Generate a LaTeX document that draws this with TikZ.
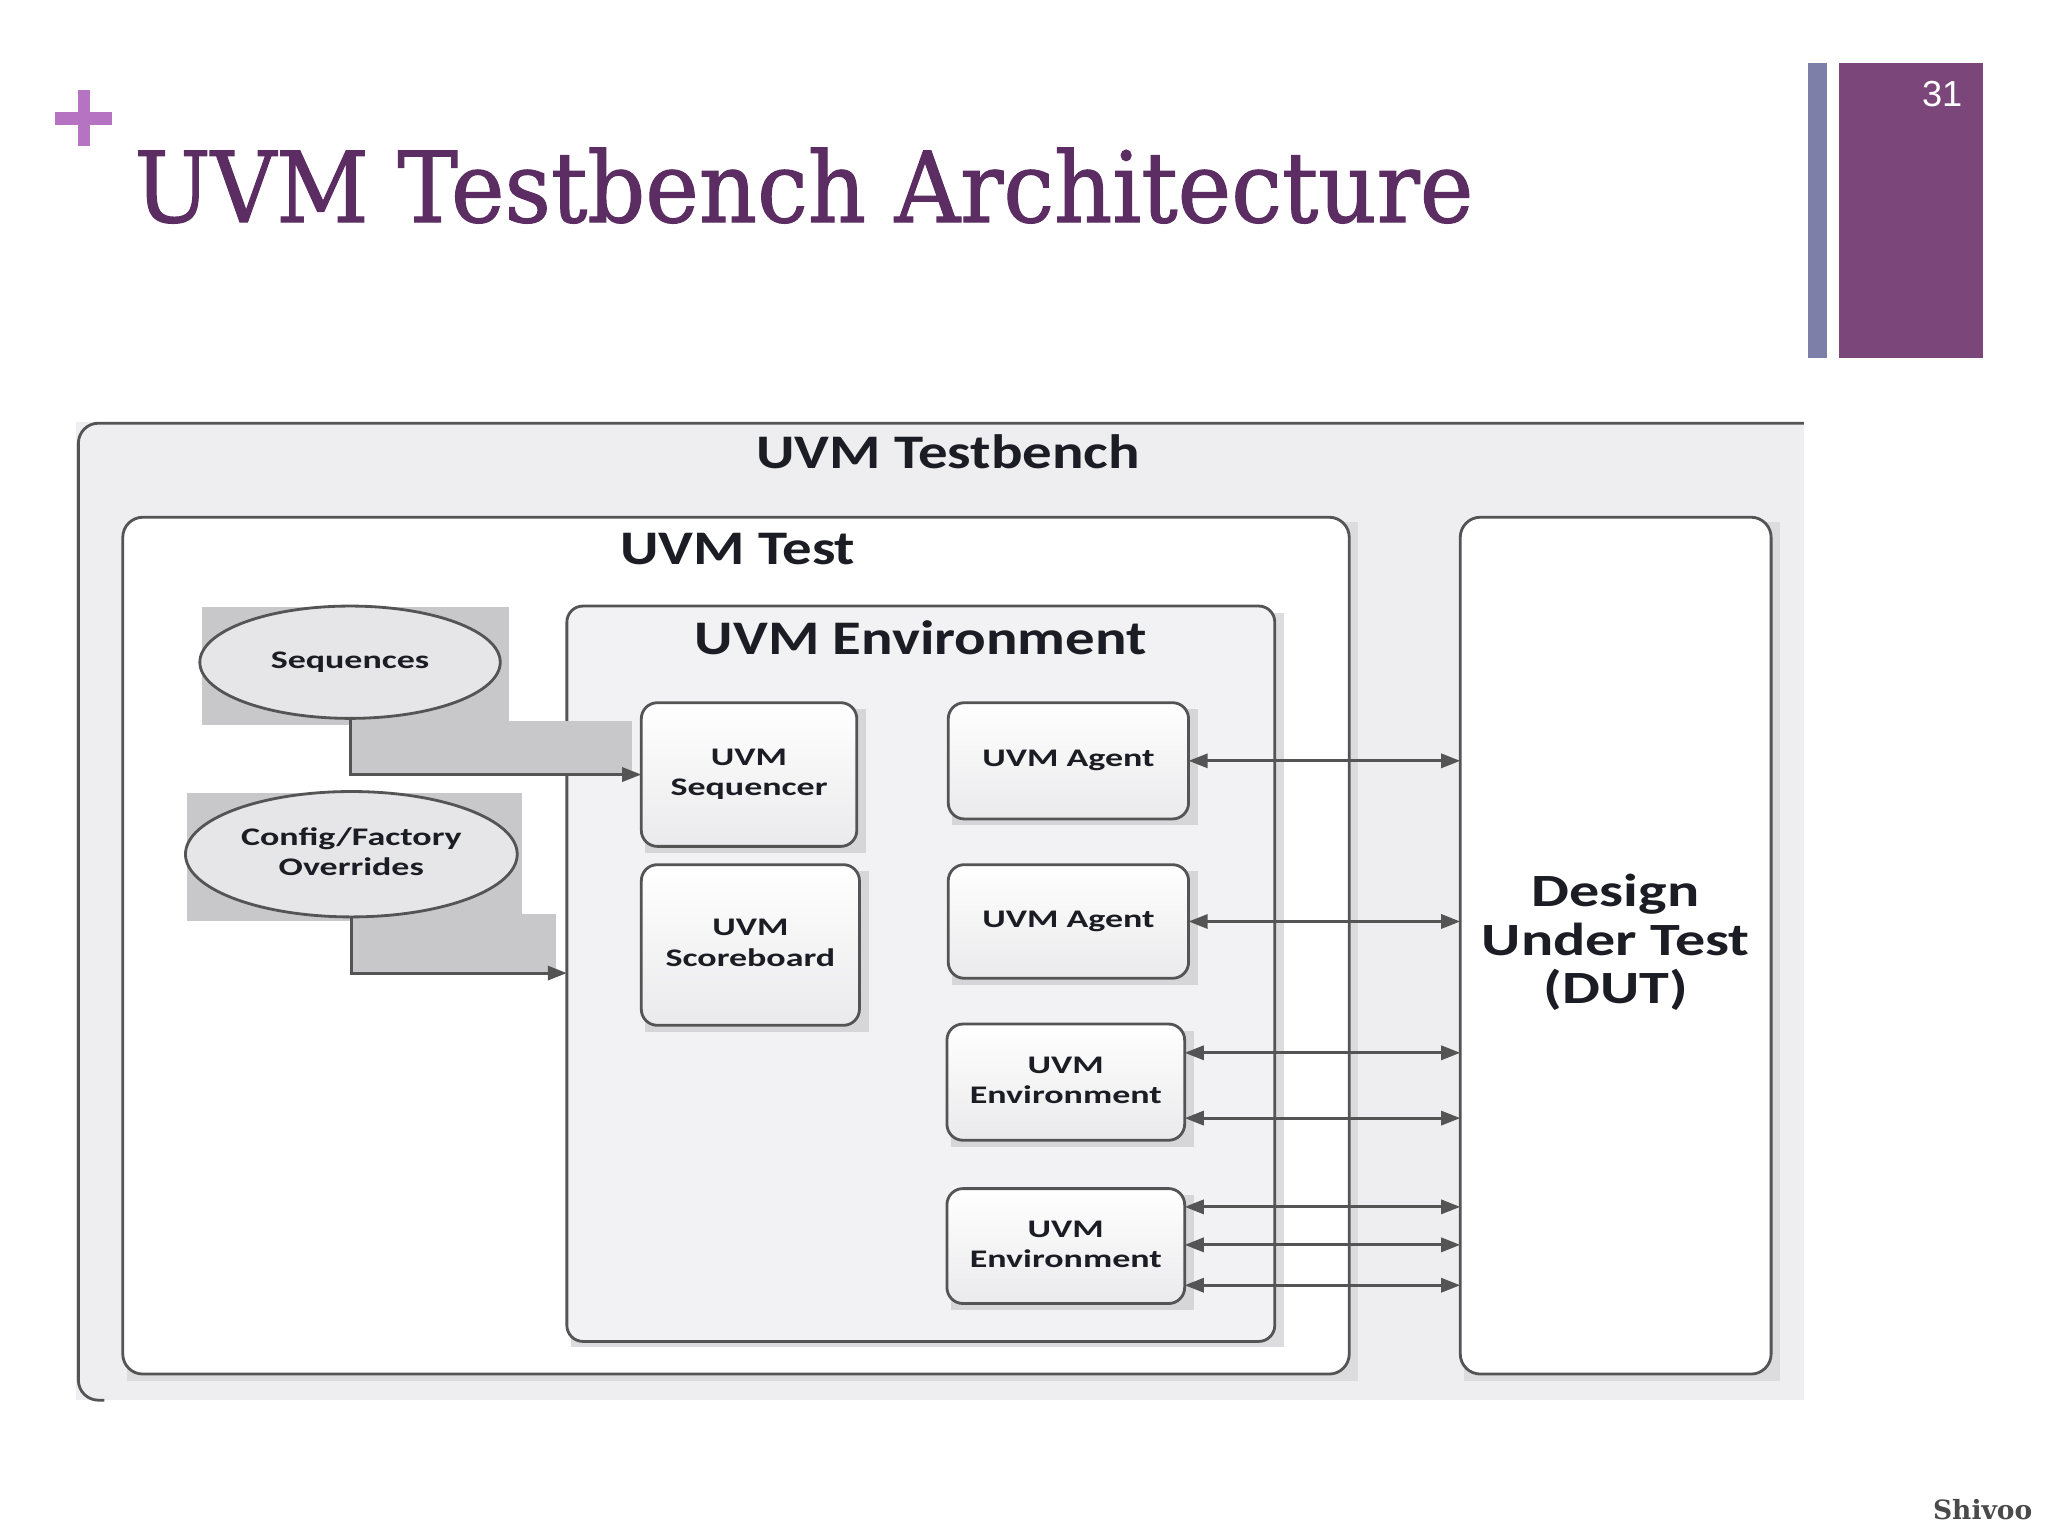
\documentclass[tikz,border=0pt]{standalone}
\usepackage{fontspec}
\setmainfont{Carlito}
\newfontfamily\titlefont[FakeBold=1.2]{DejaVu Serif}
\newfontfamily\markfont{DejaVu Serif}
\newfontfamily\numfont{Liberation Sans}
\usepackage{graphicx}
\usetikzlibrary{shapes.geometric,arrows.meta}
\definecolor{titlec}{HTML}{5C2D62}
\definecolor{plusc}{HTML}{B673C1}
\definecolor{barblue}{HTML}{7E7FA9}
\definecolor{barpurple}{HTML}{7B4679}
\definecolor{panelc}{HTML}{EEEDF0}
\definecolor{edgec}{HTML}{545454}
\definecolor{envc}{HTML}{F2F2F4}
\definecolor{boxbot}{HTML}{EAEAEC}
\definecolor{shadowc}{HTML}{D6D6D9}
\definecolor{bigshadow}{HTML}{DCDCDF}
\definecolor{bandc}{HTML}{C8C8CB}
\definecolor{ellc}{HTML}{E6E6E8}
\definecolor{txtc}{HTML}{1C1C24}
\definecolor{markc}{HTML}{4A4A4A}
\newcommand\smlab[1]{\scalebox{1.42}[1]{\begin{tabular}{@{}c@{}}#1\end{tabular}}}
\newcommand\biglab[1]{\scalebox{1.22}[1]{#1}}
\newcommand\dutlab[1]{\scalebox{1.3}[1]{\begin{tabular}{@{}c@{}}#1\end{tabular}}}
\begin{document}
\begin{tikzpicture}[x=0.65pt,y=-0.65pt,
  every node/.style={inner sep=0pt,outer sep=0pt},
  frame/.style={draw=edgec,line width=1.4pt,rounded corners=10pt},
  inbox/.style={draw=edgec,line width=1.4pt,rounded corners=8pt,top color=white,bottom color=boxbot,smtext},
  ellbox/.style={ellipse,draw=edgec,line width=1.4pt,fill=ellc,smtext},
  smtext/.style={font=\fontsize{12.6}{15}\selectfont\bfseries,text=txtc},
  bigtext/.style={font=\fontsize{24}{28}\selectfont\bfseries,text=txtc},
  duttext/.style={font=\fontsize{23}{24}\selectfont\bfseries,text=txtc},
  conn/.style={draw=edgec,line width=1.5pt,-{Triangle[length=9.5pt,width=7pt]}},
  biconn/.style={draw=edgec,line width=1.5pt,{Triangle[length=9.5pt,width=7pt]}-{Triangle[length=9.5pt,width=7pt]}},
]
\useasboundingbox (0,0) rectangle (1568,1176);
\fill[white] (0,0) rectangle (1568,1176);

% slide decorations
\fill[plusc] (60,69) rectangle (69,112);
\fill[plusc] (42,86) rectangle (86,96);
\node[anchor=base west,text=titlec] (title) at (103,170)
  {\resizebox{666.25pt}{37.05pt}{\titlefont UVM Testbench Architecture}};
\fill[barblue] (1384,48) rectangle (1399,274);
\fill[barpurple] (1408,48) rectangle (1518,274);
\node[text=white,font=\numfont\fontsize{18}{20}\selectfont] (pg) at (1487,72) {31};
\node[anchor=base east,text=markc] (wm) at (1556,1163)
  {\resizebox{49.4pt}{!}{\markfont\bfseries Shivoo}};

% outer testbench panel
\fill[panelc] (58,323) rectangle (1381,1072);
\draw[edgec,line width=1.4pt,rounded corners=10pt] (1381,324) -- (60,324) -- (60,1072) -- (80,1072);
\node[bigtext] (tbt) at (726,346) {\biglab{UVM Testbench}};

% big boxes
\fill[bigshadow] (97,400) rectangle (1040,1057);
\node[frame,fill=white,minimum width=610.35pt,minimum height=426.4pt] (test) at (563.5,724) {};
\node[bigtext] (testt) at (565,420) {\biglab{UVM Test}};
\fill[bigshadow] (1121,400) rectangle (1363,1057);
\node[frame,fill=white,minimum width=154.7pt,minimum height=426.4pt,duttext] (dut) at (1237,724)
  {\dutlab{Design\\Under Test\\(DUT)}};
\fill[bigshadow] (437,469) rectangle (983,1031);
\node[frame,rounded corners=8pt,fill=envc,minimum width=352.3pt,minimum height=365.95pt] (env) at (705,745.5) {};
\node[bigtext] (envt) at (705,488) {\biglab{UVM Environment}};

% ellipses with backing rectangles and bands
\fill[bandc] (155,465) rectangle (390,555);
\fill[bandc] (143,607) rectangle (400,705);
\fill[bandc] (268,552) rectangle (484,592);
\fill[bandc] (268,700) rectangle (426,745);
\node[ellbox,minimum width=149.5pt,minimum height=55.9pt] (seq) at (268,507) {\smlab{Sequences}};
\node[ellbox,minimum width=165.1pt,minimum height=62.4pt] (cfg) at (269,654) {\smlab{Config/Factory\\Overrides}};

% inner box shadows
\fill[shadowc] (494,543) rectangle (663,653);
\fill[shadowc] (494,667) rectangle (665,790);
\fill[shadowc] (729,543) rectangle (917,632);
\fill[shadowc] (729,667) rectangle (917,754);
\fill[shadowc] (728,789) rectangle (914,878);
\fill[shadowc] (728,915) rectangle (914,1003);

% inner boxes
\node[inbox,minimum width=107.25pt,minimum height=71.5pt] (sqr) at (573.5,593) {\smlab{UVM\\Sequencer}};
\node[inbox,minimum width=108.55pt,minimum height=79.95pt] (sb) at (574.5,723.5) {\smlab{UVM\\Scoreboard}};
\node[inbox,minimum width=119.6pt,minimum height=57.85pt] (ag1) at (818,582.5) {\smlab{UVM Agent}};
\node[inbox,minimum width=119.6pt,minimum height=56.55pt] (ag2) at (818,705.5) {\smlab{UVM Agent}};
\node[inbox,minimum width=118.3pt,minimum height=57.85pt] (env3) at (816,828.5) {\smlab{UVM\\Environment}};
\node[inbox,minimum width=118.3pt,minimum height=57.2pt] (env4) at (816,954) {\smlab{UVM\\Environment}};

% connectors
\coordinate (cfgin) at (434,745);
\draw[conn] (seq.south) |- (sqr.west);
\draw[conn] (cfg.south) |- (cfgin);

\coordinate (e3a) at ([yshift=14.6pt]env3.east);
\coordinate (e3b) at ([yshift=-17.9pt]env3.east);
\coordinate (e4a) at ([yshift=19.5pt]env4.east);
\coordinate (e4b) at ([yshift=0.6pt]env4.east);
\coordinate (e4c) at ([yshift=-19.5pt]env4.east);
\draw[biconn] (ag1.east) -- (ag1.east -| dut.west);
\draw[biconn] (ag2.east) -- (ag2.east -| dut.west);
\draw[biconn] (e3a) -- (e3a -| dut.west);
\draw[biconn] (e3b) -- (e3b -| dut.west);
\draw[biconn] (e4a) -- (e4a -| dut.west);
\draw[biconn] (e4b) -- (e4b -| dut.west);
\draw[biconn] (e4c) -- (e4c -| dut.west);
\end{tikzpicture}
\end{document}
